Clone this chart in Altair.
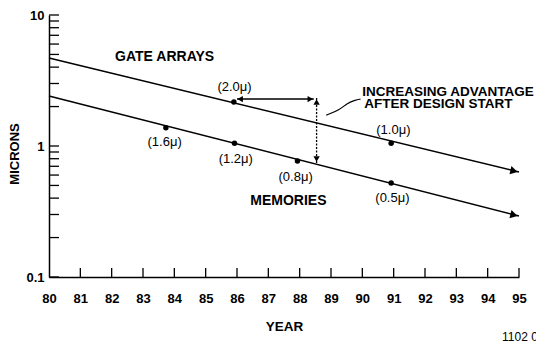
import altair as alt
import pandas as pd

FONT = "Liberation Sans"

# ---- data ----
line_years = [80, 95]
gate_line = [4.70, 0.633]
mem_line = [2.41, 0.292]

pt_years = [85.9, 90.92, 83.73, 85.92, 87.93, 90.92]
pt_values = [2.17, 1.05, 1.38, 1.05, 0.768, 0.522]

pt_labels = ["(2.0\u03bc)", "(1.0\u03bc)", "(1.6\u03bc)", "(1.2\u03bc)", "(0.8\u03bc)", "(0.5\u03bc)"]
pt_label_years = [85.92, 90.99, 83.69, 85.96, 87.87, 90.96]
pt_label_values = [2.82, 1.32, 1.07, 0.796, 0.580, 0.401]

series_labels = ["GATE ARRAYS", "MEMORIES"]
series_label_years = [83.69, 87.64]
series_label_values = [4.78, 0.380]

note_lines = ["INCREASING ADVANTAGE", "AFTER DESIGN START"]
note_years = [90.0, 90.06]
note_values = [2.58, 2.09]

h_arrow_years = [86.0, 88.45]
h_arrow_values = [2.28, 2.28]
v_arrow_years = [88.54, 88.54]
v_arrow_values = [2.32, 0.742]

leader_years = [88.85, 89.27, 89.52, 89.78, 89.94]
leader_values = [1.72, 1.88, 2.13, 2.24, 2.28]

head_years = [94.84, 94.84, 86.1, 88.34, 88.54, 88.54]
head_values = [0.644, 0.297, 2.28, 2.28, 2.17, 0.796]
head_shapes = ["triangle-right", "triangle-right", "triangle-left", "triangle-right", "triangle-up", "triangle-down"]
head_angles = [13.6, 14.3, 0, 0, 0, 0]
head_sizes = [70, 70, 40, 40, 40, 40]

year_ticks = list(range(80, 96))
micron_ticks = [0.1, 0.2, 0.3, 0.4, 0.5, 0.6, 0.7, 0.8, 0.9,
                1, 2, 3, 4, 5, 6, 7, 8, 9, 10]
micron_labels = [0.1, 1, 10]
footnote = ["1102 0"]

# ---- tables ----
lines_df = pd.DataFrame({
    "year": line_years + line_years,
    "value": gate_line + mem_line,
    "series": ["gate"] * 2 + ["mem"] * 2,
})
pts_df = pd.DataFrame({"year": pt_years, "value": pt_values})
ptlab_df = pd.DataFrame({"year": pt_label_years, "value": pt_label_values, "text": pt_labels})
serlab_df = pd.DataFrame({"year": series_label_years, "value": series_label_values, "text": series_labels})
note_df = pd.DataFrame({"year": note_years, "value": note_values, "text": note_lines})
harrow_df = pd.DataFrame({"year": h_arrow_years, "value": h_arrow_values})
varrow_df = pd.DataFrame({"year": v_arrow_years, "value": v_arrow_values})
leader_df = pd.DataFrame({"year": leader_years, "value": leader_values, "order": list(range(len(leader_years)))})
heads_df = pd.DataFrame({"year": head_years, "value": head_values, "shape": head_shapes,
                         "angle": head_angles, "size": head_sizes})
ytick_df = pd.DataFrame({"value": micron_ticks})
xtick_df = pd.DataFrame({"year": year_ticks[1:]})
foot_df = pd.DataFrame({"text": footnote})

W, H = 470, 262

xs = alt.Scale(domain=[80, 95], nice=False, zero=False)
ys = alt.Scale(type="log", domain=[0.1, 10], nice=False)

x_axis = alt.Axis(
    values=year_ticks, ticks=False, grid=False, title="YEAR", labelOverlap=False,
    labelFont=FONT, labelFontWeight="bold", labelFontSize=13, labelColor="black",
    labelPadding=21, labelBaseline="middle", labelFlush=False,
    domainColor="black", domainWidth=1.5,
    titleFont=FONT, titleFontWeight="bold", titleFontSize=13.5, titleColor="black",
    titleY=49, titleBaseline="middle")
y_axis = alt.Axis(
    values=micron_labels, ticks=False, grid=False, title="MICRONS", format="~g",
    labelOverlap=False,
    labelFont=FONT, labelFontWeight="bold", labelFontSize=13, labelColor="black",
    labelPadding=5, labelFlush=False,
    domainColor="black", domainWidth=1.5,
    titleFont=FONT, titleFontWeight="bold", titleFontSize=13, titleColor="black",
    titleX=-35, titleY=138.5, titleAngle=-90, titleAlign="center", titleBaseline="middle")


def X():
    return alt.X("year:Q", scale=xs, axis=x_axis)


def Y():
    return alt.Y("value:Q", scale=ys, axis=y_axis)


base_lines = alt.Chart(lines_df).mark_line(color="black", strokeWidth=1.5).encode(
    x=X(), y=Y(), detail="series:N")

yticks = alt.Chart(ytick_df).mark_rule(color="black", strokeWidth=1.3).encode(
    x=alt.value(0), x2=alt.value(10), y=Y())
xticks = alt.Chart(xtick_df).mark_rule(color="black", strokeWidth=1.3).encode(
    x=X(), y=alt.value(H), y2=alt.value(H - 9))

points = alt.Chart(pts_df).mark_circle(color="black", size=30, opacity=1).encode(x=X(), y=Y())

ptlabels = alt.Chart(ptlab_df).mark_text(font=FONT, fontSize=13, color="black",
                                         align="center", baseline="middle").encode(
    x=X(), y=Y(), text="text:N")
serlabels = alt.Chart(serlab_df).mark_text(font=FONT, fontSize=14, fontWeight="bold", color="black",
                                           align="center", baseline="middle").encode(
    x=X(), y=Y(), text="text:N")
notes = alt.Chart(note_df).mark_text(font=FONT, fontSize=13.5, fontWeight="bold", color="black",
                                     align="left", baseline="middle").encode(
    x=X(), y=Y(), text="text:N")

harrow = alt.Chart(harrow_df).mark_line(color="black", strokeWidth=1.5).encode(x=X(), y=Y())
varrow = alt.Chart(varrow_df).mark_line(color="black", strokeWidth=1.3, strokeDash=[2, 1.5]).encode(
    x=X(), y=Y())
leader = alt.Chart(leader_df).mark_line(color="black", strokeWidth=1.2, interpolate="basis").encode(
    x=X(), y=Y(), order="order:Q")

heads = alt.Chart(heads_df).mark_point(filled=True, color="black", opacity=1, strokeWidth=0).encode(
    x=X(), y=Y(),
    shape=alt.Shape("shape:N", scale=None),
    angle=alt.Angle("angle:Q", scale=None),
    size=alt.Size("size:Q", scale=None))

foot = alt.Chart(foot_df).mark_text(font=FONT, fontSize=12, color="black",
                                    align="left", baseline="middle").encode(
    x=alt.value(453), y=alt.value(322), text="text:N")

chart = alt.layer(
    base_lines, yticks, xticks, points, ptlabels, serlabels, notes,
    harrow, varrow, leader, heads, foot
).properties(
    width=W, height=H,
    autosize=alt.AutoSizeParams(type="none"),
    padding={"left": 41, "top": 7, "right": 17, "bottom": 64},
    background="white",
).configure_view(stroke=None)

chart.save("out.html", embed_options={"renderer": "svg", "actions": False})
